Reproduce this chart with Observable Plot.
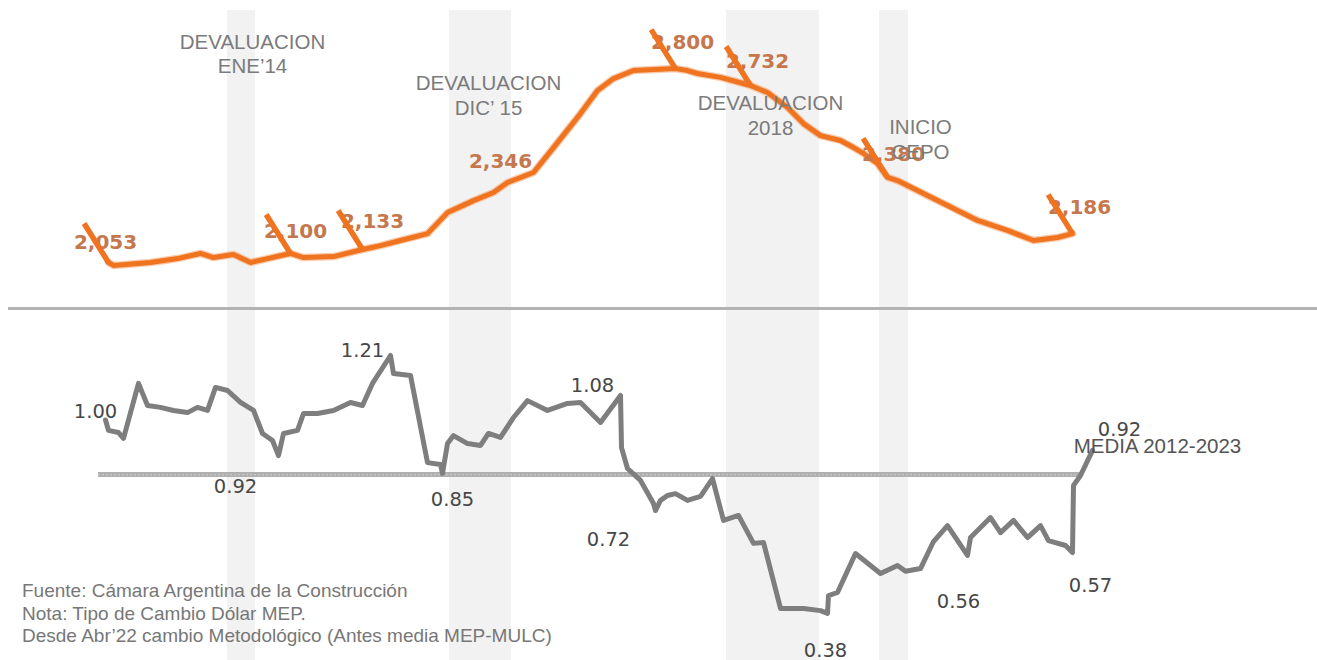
<!DOCTYPE html>
<html><head><meta charset="utf-8">
<script src="https://cdn.jsdelivr.net/npm/d3@7"></script>
<script src="https://cdn.jsdelivr.net/npm/@observablehq/plot@0.6"></script>
<style>
body{margin:0;background:#fff}
#wrap{position:relative;width:1317px;height:660px;overflow:hidden;background:#fff}
#wrap svg{display:block;overflow:visible}
#divider{position:absolute;left:8px;top:307px;width:1309px;height:3px;background:#b3b3b3}
#notes{position:absolute;left:22px;top:580px;font:19px/22.5px "Liberation Sans",Arial,sans-serif;color:#777}
</style></head><body>
<div id="wrap"><div id="top"></div><div id="bottom"></div><div id="divider"></div>
<div id="notes">Fuente: Cámara Argentina de la Construcción<br>Nota: Tipo de Cambio Dólar MEP.<br>Desde Abr’22 cambio Metodológico (Antes media MEP-MULC)</div></div>
<script>
// ---- Data ----
// period index (position along the series)
const naranjaT = [0.3, 0.8, 4.5, 7.2, 9.5, 10.8, 12.8, 14.5, 16.2, 18.5, 19.8, 22.8, 25.7, 27.5, 29.5, 32.2, 34.2, 36.8, 38.8, 40.2, 42.8, 44.8, 47.5, 49.2, 50.8, 52.8, 57.0, 58.2, 59.2, 61.5, 64.5, 66.2, 68.2, 69.8, 71.5, 73.5, 74.8, 75.8, 77.2, 78.2, 79.2, 81.8, 85.2, 87.2, 90.2, 92.8, 95.2, 96.7];
const naranjaV = [2023, 2011, 2023, 2039, 2060, 2043, 2056, 2023, 2039, 2060, 2043, 2047, 2076, 2092, 2113, 2141, 2227, 2276, 2309, 2350, 2391, 2493, 2632, 2726, 2775, 2808, 2816, 2808, 2796, 2780, 2747, 2718, 2657, 2591, 2542, 2522, 2493, 2469, 2428, 2371, 2358, 2305, 2236, 2195, 2154, 2113, 2125, 2141];

const grisT = [0, 0.3, 1.3, 1.8, 3.3, 4.2, 5.5, 6.8, 8.2, 9.2, 10.2, 11.0, 12.2, 13.5, 14.8, 15.7, 16.7, 17.3, 17.8, 19.2, 19.8, 21.2, 22.8, 24.5, 25.7, 26.7, 28.5, 28.8, 30.5, 32.2, 33.5, 33.7, 34.2, 34.8, 36.2, 37.5, 38.3, 39.5, 40.8, 42.2, 44.2, 46.2, 47.5, 49.5, 51.5, 51.6, 52.2, 53.5, 54.8, 55.0, 55.5, 56.2, 57.0, 58.2, 59.5, 60.7, 61.8, 63.3, 64.8, 65.8, 67.5, 69.8, 71.5, 72.2, 72.3, 73.2, 75.0, 77.5, 79.2, 80.0, 81.5, 82.8, 84.2, 86.2, 86.5, 88.5, 89.5, 90.8, 92.2, 93.5, 94.3, 96.0, 96.7, 96.8, 97.5, 98.7];
const grisV = [1.00, 0.966, 0.959, 0.940, 1.119, 1.047, 1.041, 1.031, 1.024, 1.041, 1.031, 1.106, 1.096, 1.057, 1.031, 0.956, 0.933, 0.884, 0.956, 0.966, 1.021, 1.021, 1.031, 1.057, 1.047, 1.119, 1.21, 1.151, 1.145, 0.861, 0.855, 0.826, 0.923, 0.949, 0.923, 0.917, 0.956, 0.943, 1.008, 1.063, 1.031, 1.054, 1.057, 0.992, 1.080, 0.910, 0.842, 0.803, 0.728, 0.705, 0.738, 0.754, 0.760, 0.738, 0.751, 0.809, 0.673, 0.689, 0.598, 0.601, 0.386, 0.386, 0.379, 0.370, 0.428, 0.438, 0.565, 0.500, 0.526, 0.507, 0.516, 0.604, 0.656, 0.559, 0.617, 0.682, 0.633, 0.673, 0.617, 0.656, 0.607, 0.591, 0.568, 0.787, 0.819, 0.901];

const media = 0.822;
const mediaDesde = -0.7, mediaHasta = 97.5;

const naranjaEtiq = ["2,053", "2,100", "2,133", "2,346", "2,800", "2,732", "2,380", "2,186"];
const naranjaEtiqT = [0, 19, 26.7, 39.5, 57.7, 65.2, 78.8, 97.4];
const naranjaEtiqV = [2080, 2125, 2166, 2411, 2898, 2820, 2440, 2223];
const naranjaMarcaT = [0.3, 18.5, 25.7, 57.0, 64.5, 78.2, 96.7];

const grisEtiq = ["1.00", "0.92", "1.21", "0.85", "1.08", "0.72", "0.38", "0.56", "0.57", "0.92"];
const grisEtiqT = [-1.0, 13.0, 25.7, 34.7, 48.7, 50.3, 72.0, 85.3, 98.5, 101.4];
const grisEtiqV = [1.005, 0.761, 1.204, 0.721, 1.090, 0.591, 0.229, 0.386, 0.438, 0.949];

const bandaInicio = [12.2, 34.4, 62.1, 77.4];
const bandaFin = [15.0, 40.6, 71.4, 80.3];

const eventos = ["DEVALUACION\nENE’14", "DEVALUACION\nDIC’ 15", "DEVALUACION\n2018", "INICIO\nCEPO"];
const eventosT = [14.7, 38.3, 66.5, 81.5];
const eventosV = [2796, 2628, 2546, 2448];

const mediaTexto = "MEDIA 2012-2023";
const mediaTextoT = 105.2, mediaTextoV = 0.894;

// ---- Tables ----
const naranja = naranjaT.map((t, i) => ({t, v: naranjaV[i]}));
const gris = grisT.map((t, i) => ({t, v: grisV[i]}));
const bandas = bandaInicio.map((a, i) => ({inicio: a, fin: bandaFin[i]}));
const nEtiq = naranjaEtiq.map((s, i) => ({s, t: naranjaEtiqT[i], v: naranjaEtiqV[i]}));
const nMarcas = naranjaMarcaT.map(t => naranja.find(d => d.t === t));
const gEtiq = grisEtiq.map((s, i) => ({s, t: grisEtiqT[i], v: grisEtiqV[i]}));
const ev = eventos.map((s, i) => ({s, t: eventosT[i], v: eventosV[i]}));

const ORANGE = "#f07320";
const xDom = [-10.5, 121.2];
const common = {width: 1317, marginLeft: 0, marginRight: 0, marginBottom: 0,
  style: "display:block;overflow:visible;background:transparent"};

// thick straight stroke as the vector shape
const trazo = {draw(context, l) { context.moveTo(0, 0); context.lineTo(0, -l); }};

const chartTop = Plot.plot({
  ...common, height: 309, marginTop: 10,
  x: {domain: xDom, axis: null},
  y: {domain: [1830.7, 3053.6], axis: null},
  marks: [
    Plot.barX(bandas, {x1: "inicio", x2: "fin", fill: "#f2f2f2"}),
    Plot.line(naranja, {x: "t", y: "v", stroke: "#f5b58a", strokeWidth: 7.5, strokeLinejoin: "round", strokeLinecap: "round", strokeOpacity: 0.7}),
    Plot.line(naranja, {x: "t", y: "v", stroke: ORANGE, strokeWidth: 5, strokeLinejoin: "round", strokeLinecap: "round"}),
    Plot.text(nEtiq, {x: "t", y: "v", text: "s", lineAnchor: "bottom", textAnchor: "middle",
      fontFamily: "DejaVu Sans", fontWeight: "bold", fontSize: 20, fill: "#c5774d"}),
    Plot.vector(nMarcas, {x: "t", y: "v", rotate: -32, length: 46, anchor: "start", shape: trazo,
      stroke: ORANGE, strokeWidth: 5.5, strokeLinecap: "butt"}),
    Plot.text(ev, {x: "t", y: "v", text: "s", lineAnchor: "bottom", textAnchor: "middle", lineHeight: 1.2,
      fontFamily: "Liberation Sans", fontSize: 20.5, fill: "#7b7b7b"})
  ]
});

const chartBottom = Plot.plot({
  ...common, height: 351, marginTop: 0,
  x: {domain: xDom, axis: null},
  y: {domain: [0.2165, 1.3598], axis: null},
  marks: [
    Plot.barX(bandas, {x1: "inicio", x2: "fin", fill: "#f2f2f2"}),
    Plot.ruleY([media], {x1: mediaDesde, x2: mediaHasta, stroke: "#b0b0b0", strokeWidth: 5}),
    Plot.ruleY([media], {x1: mediaDesde, x2: mediaHasta, stroke: "#c6c6c6", strokeWidth: 1.2, strokeDasharray: "2,2"}),
    Plot.line(gris, {x: "t", y: "v", stroke: "#7e7e7e", strokeWidth: 5, strokeLinejoin: "round", strokeLinecap: "round"}),
    Plot.text(gEtiq, {x: "t", y: "v", text: "s", lineAnchor: "bottom", textAnchor: "middle",
      fontFamily: "DejaVu Sans", fontSize: 19.5, fill: "#474747"}),
    Plot.text([{s: mediaTexto, t: mediaTextoT, v: mediaTextoV}], {x: "t", y: "v", text: "s", lineAnchor: "bottom", textAnchor: "middle",
      fontFamily: "Liberation Sans", fontSize: 20.5, fill: "#555"})
  ]
});

document.getElementById("top").appendChild(chartTop);
document.getElementById("bottom").appendChild(chartBottom);
</script>
</body></html>
